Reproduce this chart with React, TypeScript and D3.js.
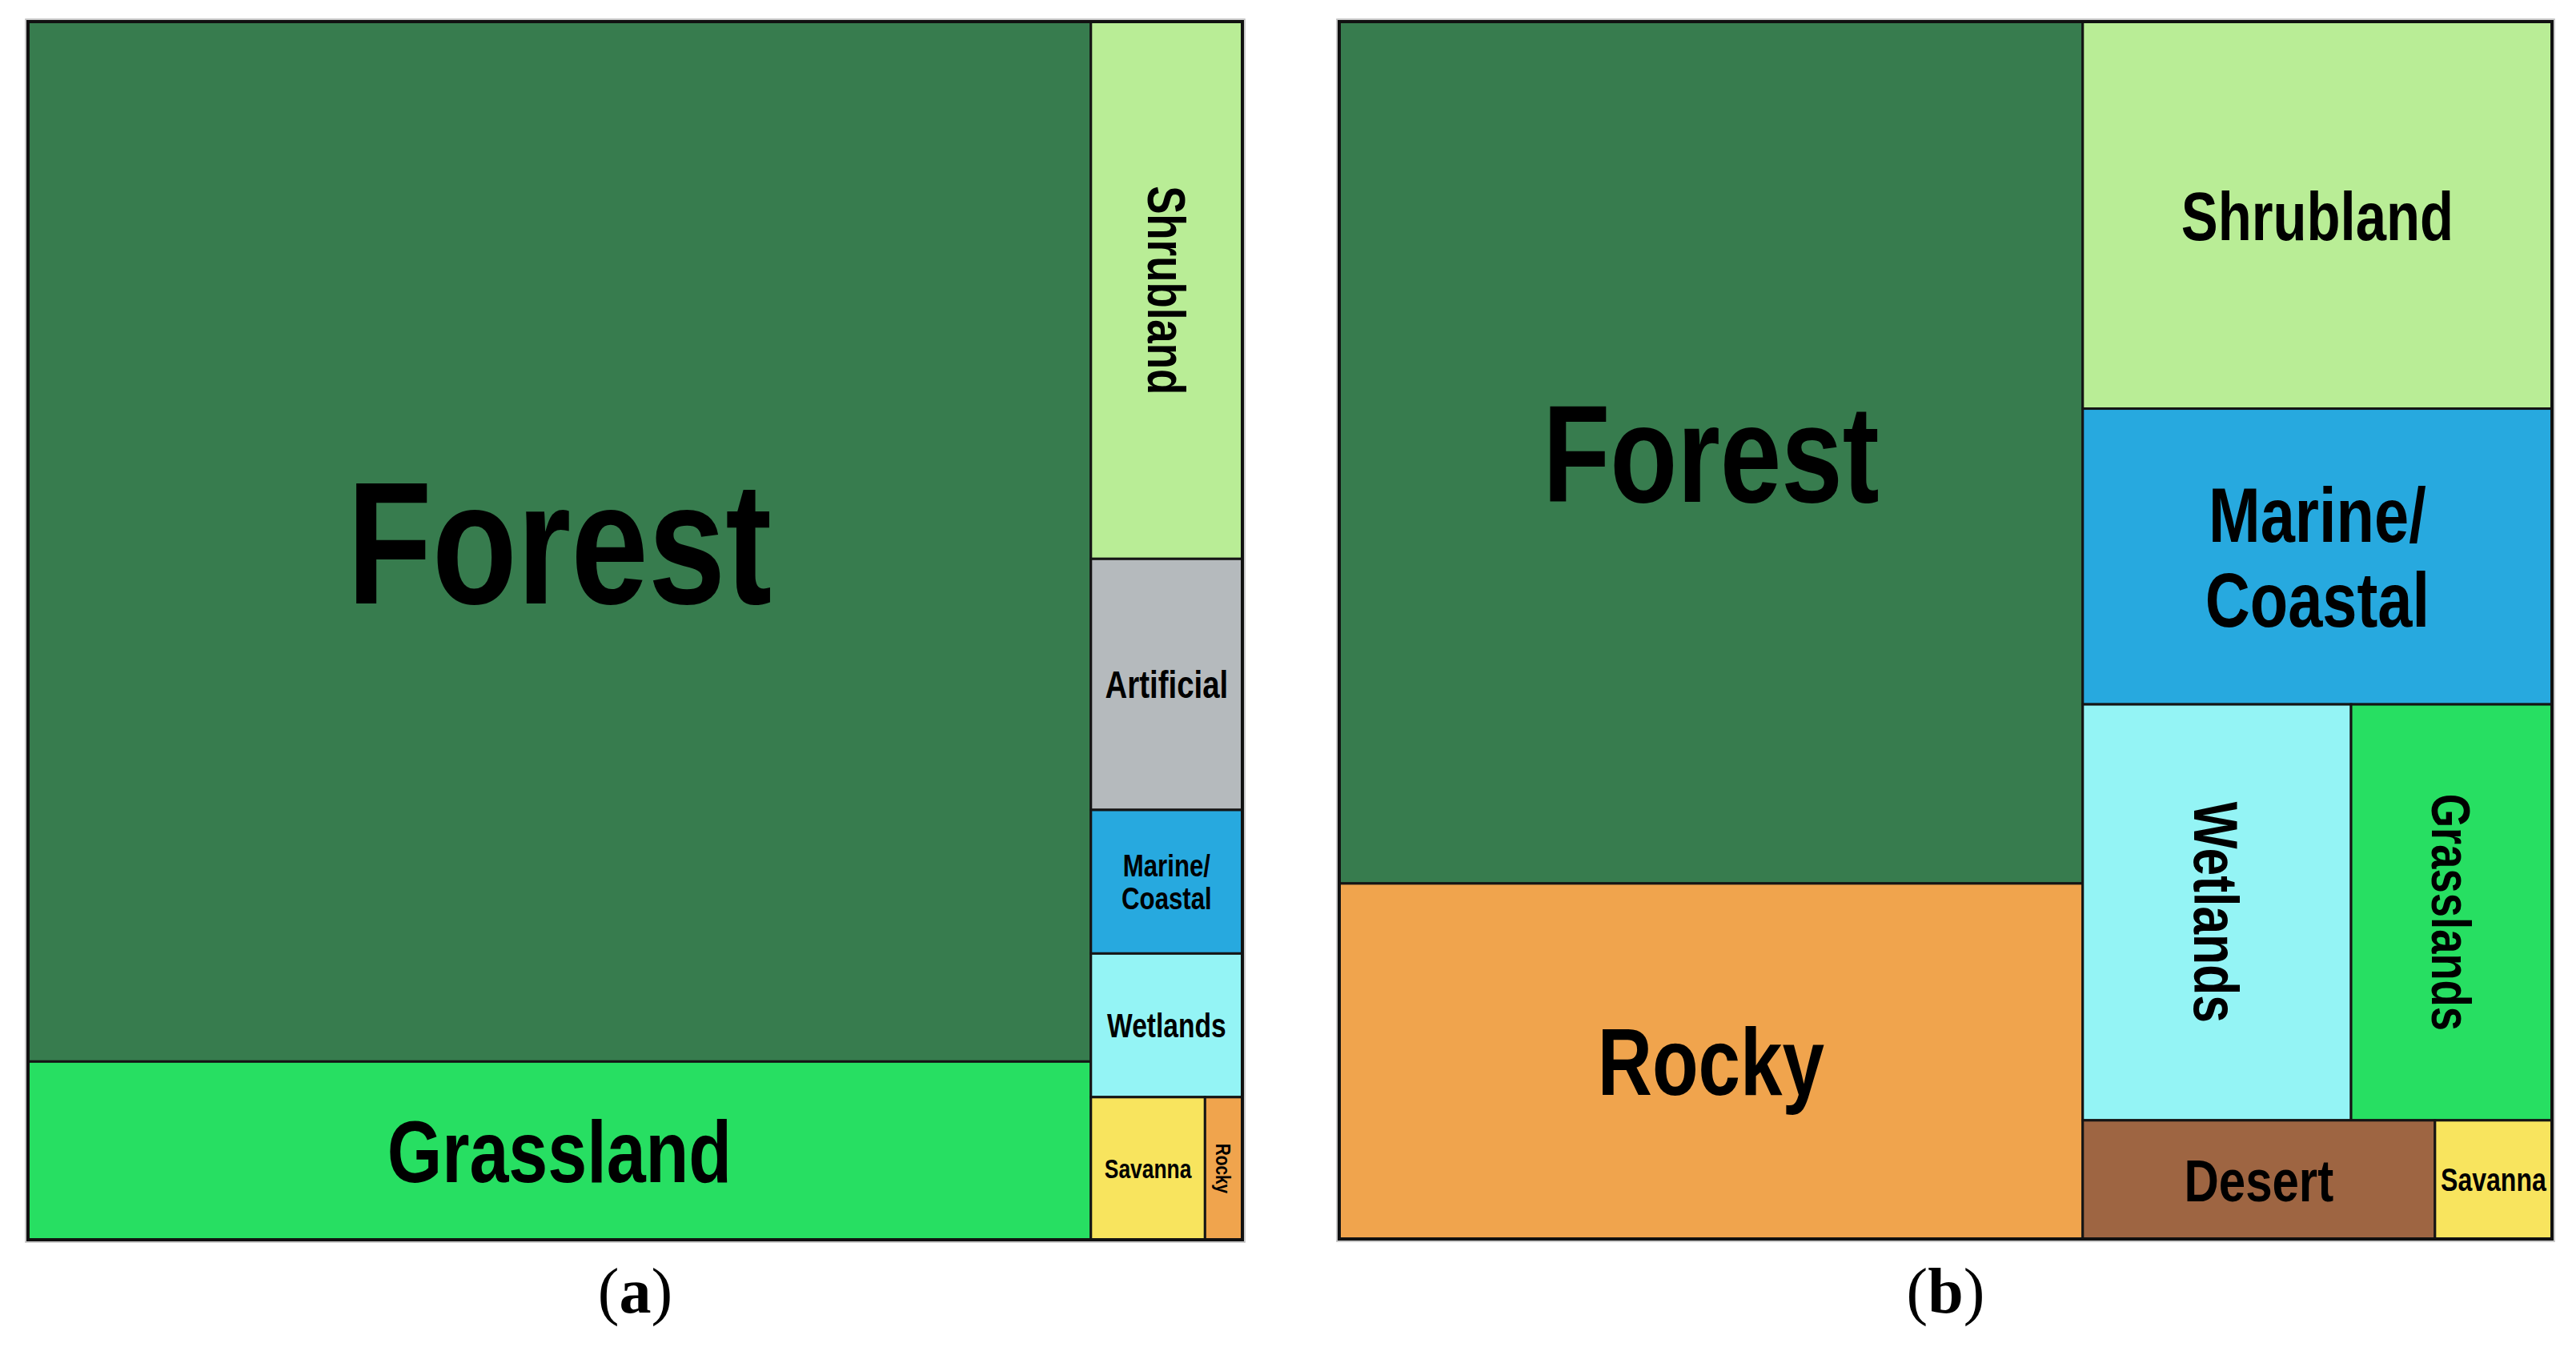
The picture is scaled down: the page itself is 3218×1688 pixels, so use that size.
import React, { useEffect } from "react";
import * as d3 from "d3";

// ---------- DATA ----------
const namesA = ["Forest", "Grassland", "Shrubland", "Artificial", "Marine/Coastal", "Wetlands", "Savanna", "Rocky"];
const valuesA = [74.7, 12.8, 5.5, 2.57, 1.47, 1.47, 1.1, 0.36];
// layout grouping (indices): columns -> rows -> cells
const groupsA: any[] = [[0, 1], [2, 3, 4, 5, [6, 7]]];

const namesB = ["Forest", "Rocky", "Shrubland", "Marine/Coastal", "Wetlands", "Grasslands", "Desert", "Savanna"];
const valuesB = [43.4, 17.9, 12.3, 9.4, 7.56, 5.66, 2.83, 0.94];
const groupsB: any[] = [[0, 1], [2, 3, [4, 5], [6, 7]]];

const captions = ["a", "b"];

// ---------- STYLES ----------
const colors: Record<string, string> = {
  Forest: "#377C4E",
  Grassland: "#27DF62",
  Grasslands: "#27DF62",
  Shrubland: "#B9ED96",
  Artificial: "#B5BABD",
  "Marine/Coastal": "#27A9DF",
  Wetlands: "#94F4F5",
  Savanna: "#F8E45E",
  Rocky: "#F0A44D",
  Desert: "#9E6542",
};

type LS = { size: number; rot?: number; lines?: string[]; lh?: number };
const labelStyleA: Record<string, LS> = {
  Forest: { size: 217 },
  Grassland: { size: 110 },
  Shrubland: { size: 66, rot: 90 },
  Artificial: { size: 48 },
  "Marine/Coastal": { size: 39, lines: ["Marine/", "Coastal"], lh: 41 },
  Wetlands: { size: 42 },
  Savanna: { size: 33 },
  Rocky: { size: 26, rot: 90 },
};
const labelStyleB: Record<string, LS> = {
  Forest: { size: 172 },
  Rocky: { size: 118 },
  Shrubland: { size: 86 },
  "Marine/Coastal": { size: 97, lines: ["Marine/", "Coastal"], lh: 106 },
  Wetlands: { size: 78, rot: 90 },
  Grasslands: { size: 68, rot: 90 },
  Desert: { size: 75 },
  Savanna: { size: 40 },
};

const panels = [
  { names: namesA, values: valuesA, groups: groupsA, styles: labelStyleA, x0: 35, y0: 27, x1: 1552, y1: 1549 },
  { names: namesB, values: valuesB, groups: groupsB, styles: labelStyleB, x0: 1673, y0: 27, x1: 3188, y1: 1548 },
];

const CONDENSE = 0.8;
const CAP = 0.716;

function buildTree(names: string[], values: number[], g: any): any {
  if (typeof g === "number") return { name: names[g], value: values[g] };
  return { children: g.map((c: any) => buildTree(names, values, c)) };
}

const tile = (node: any, x0: number, y0: number, x1: number, y1: number) => {
  (node.depth % 2 === 0 ? d3.treemapDice : d3.treemapSlice)(node, x0, y0, x1, y1);
};

function Panel({ p, idx }: { p: (typeof panels)[number]; idx: number }) {
  const w = p.x1 - p.x0;
  const h = p.y1 - p.y0;
  const root = d3
    .hierarchy(buildTree(p.names, p.values, p.groups))
    .sum((d: any) => d.value ?? 0);
  d3.treemap<any>().size([w, h]).tile(tile as any)(root);
  const leaves = root.leaves() as any[];
  const cx = (p.x0 + p.x1) / 2;
  return (
    <g>
      <rect x={p.x0 - 3} y={p.y0 - 3} width={w + 6} height={h + 6} fill="none" stroke="#bbb" strokeWidth={1.5} />
      <g transform={`translate(${p.x0},${p.y0})`}>
        {leaves.map((l, i) => (
          <rect
            key={i}
            x={l.x0}
            y={l.y0}
            width={l.x1 - l.x0}
            height={l.y1 - l.y0}
            fill={colors[l.data.name]}
            stroke="#151515"
            strokeWidth={3}
          />
        ))}
        <rect x={0} y={0} width={w} height={h} fill="none" stroke="#111" strokeWidth={4} />
        {leaves.map((l, i) => {
          const st = p.styles[l.data.name];
          const mx = (l.x0 + l.x1) / 2;
          const my = (l.y0 + l.y1) / 2;
          const lines = st.lines ?? [l.data.name];
          const lh = st.lh ?? st.size;
          const capH = st.size * CAP;
          return (
            <text
              key={"t" + i}
              transform={`translate(${mx},${my}) rotate(${st.rot ?? 0}) scale(${CONDENSE},1)`}
              textAnchor="middle"
              fontFamily="'Liberation Sans', Arial, sans-serif"
              fontWeight="bold"
              fontSize={st.size}
              fill="#000"
            >
              {lines.map((t, k) => (
                <tspan key={k} x={0} y={(k - (lines.length - 1) / 2) * lh + capH / 2}>
                  {t}
                </tspan>
              ))}
            </text>
          );
        })}
      </g>
      <text
        x={cx}
        y={1640}
        textAnchor="middle"
        fontFamily="'Liberation Serif', 'Times New Roman', serif"
        fontSize={80}
        fill="#000"
      >
        (<tspan fontWeight="bold">{captions[idx]}</tspan>)
      </text>
    </g>
  );
}

export default function App() {
  useEffect(() => {
    document.body.style.margin = "0";
  }, []);
  return (
    <svg
      width={3218}
      height={1688}
      viewBox="0 0 3218 1688"
      style={{ position: "absolute", left: 0, top: 0, background: "#fff" }}
    >
      <rect x={0} y={0} width={3218} height={1688} fill="#fff" />
      {panels.map((p, i) => (
        <Panel key={i} p={p} idx={i} />
      ))}
    </svg>
  );
}
